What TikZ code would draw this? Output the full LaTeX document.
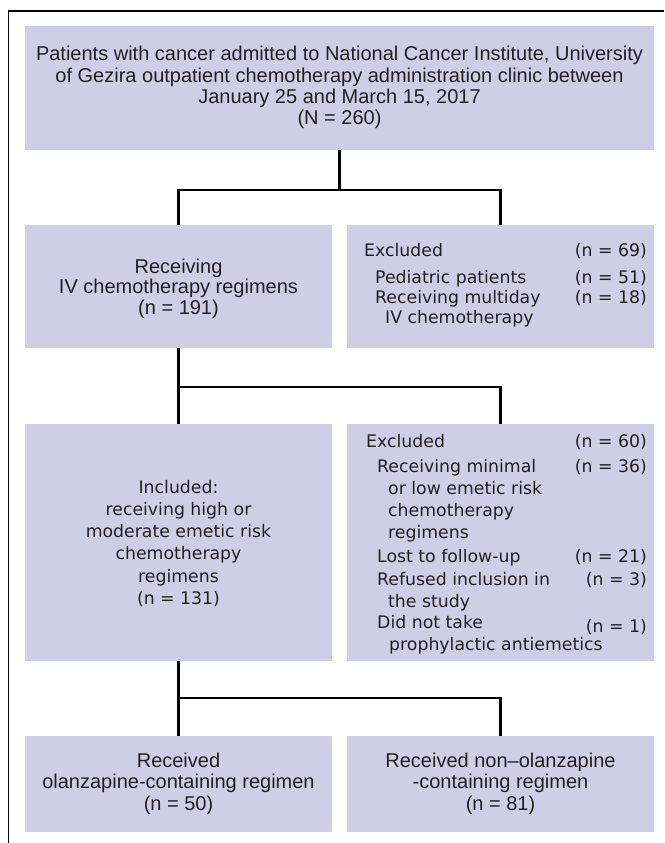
\documentclass[tikz,border=0pt]{standalone}
\usepackage{fontspec}
\setmainfont{Liberation Sans}
\newfontfamily\dvsfont{DejaVu Sans}
\definecolor{boxfill}{RGB}{208,206,230}
\definecolor{ink}{RGB}{35,31,32}
\begin{document}
\begin{tikzpicture}[x=1pt,y=-1pt,
  panel/.style={fill=boxfill,draw=none,inner sep=0pt,outer sep=0pt,anchor=north west,minimum width=#1},
  panel/.default=307pt,
  conn/.style={draw=black,line width=2.2pt,line join=miter},
  frameline/.style={draw=black,line width=1.5pt},
  ctext/.style={anchor=base,inner sep=0pt,text=ink,font=\fontsize{20}{21}\selectfont},
  rtext/.style={anchor=base west,inner sep=0pt,text=ink,font=\dvsfont\fontsize{17.3}{22}\selectfont},
  ntext/.style={anchor=base east,inner sep=0pt,text=ink,font=\dvsfont\fontsize{17.3}{22}\selectfont},
  dtext/.style={anchor=base,inner sep=0pt,text=ink,font=\dvsfont\fontsize{17.3}{22}\selectfont}]
\useasboundingbox (0,0) rectangle (664,843);
\fill[white] (0,0) rectangle (664,843);
% frame (top and left edges)
\coordinate (fbl) at (8.5,843);
\coordinate (ftl) at (8.5,11);
\coordinate (ftr) at (664,11);
\draw[frameline] (fbl) -- (ftl) -- (ftr);
% boxes
\node[panel=629pt,minimum height=124pt] (top) at (25,26) {};
\node[panel,minimum height=123pt] (r2l) at (25,225) {};
\node[panel,minimum height=123pt] (r2r) at (347,225) {};
\node[panel,minimum height=237pt] (r3l) at (25,424) {};
\node[panel,minimum height=237pt] (r3r) at (347,424) {};
\node[panel,minimum height=96pt] (r4l) at (25,736) {};
\node[panel,minimum height=96pt] (r4r) at (347,736) {};
% junction coordinates
\coordinate (j1) at (339.5,190);
\coordinate (j2) at (178.5,387);
\coordinate (j3) at (178.5,698);
% connectors
\draw[conn] (top.south) -- (j1);
\draw[conn] (r2l.north) -- (r2l.north |- j1) -- (r2r.north |- j1) -- (r2r.north);
\draw[conn] (r2l.south) -- (r3l.north);
\draw[conn] (j2) -| (r3r.north);
\draw[conn] (r3l.south) -- (r4l.north);
\draw[conn] (j3) -| (r4r.north);
% top text
\node[ctext] (t1) at (339.5,61) {Patients with cancer admitted to National Cancer Institute, University};
\node[ctext] (t2) at (339.5,82) {of Gezira outpatient chemotherapy administration clinic between};
\node[ctext] (t3) at (339.5,103) {January 25 and March 15, 2017};
\node[ctext] (t4) at (339.5,124) {(N = 260)};
% row 2 left
\node[ctext] (a1) at (178.5,273) {Receiving};
\node[ctext] (a2) at (178.5,293.5) {IV chemotherapy regimens};
\node[ctext] (a3) at (178.5,314) {(n = 191)};
% row 2 right
\node[rtext] (b1) at (364,256) {Excluded};
\node[ntext] (b1n) at (647,256) {(n = 69)};
\node[rtext] (b2) at (375,283) {Pediatric patients};
\node[ntext] (b2n) at (647,283) {(n = 51)};
\node[rtext] (b3) at (375,303) {Receiving multiday};
\node[ntext] (b3n) at (647,303) {(n = 18)};
\node[rtext] (b4) at (385,323) {IV chemotherapy};
% row 3 left
\node[dtext] (c1) at (178.5,493) {Included:};
\node[dtext] (c2) at (178.5,515) {receiving high or};
\node[dtext] (c3) at (178.5,537) {moderate emetic risk};
\node[dtext] (c4) at (178.5,559) {chemotherapy};
\node[dtext] (c5) at (178.5,582) {regimens};
\node[dtext] (c6) at (178.5,604) {(n = 131)};
% row 3 right
\node[rtext] (d1) at (366,447) {Excluded};
\node[ntext] (d1n) at (647,447) {(n = 60)};
\node[rtext] (d2) at (377,472) {Receiving minimal};
\node[ntext] (d2n) at (647,472) {(n = 36)};
\node[rtext] (d3) at (388,494) {or low emetic risk};
\node[rtext] (d4) at (388,516) {chemotherapy};
\node[rtext] (d5) at (388,538) {regimens};
\node[rtext] (d6) at (377,562) {Lost to follow-up};
\node[ntext] (d6n) at (647,562) {(n = 21)};
\node[rtext] (d7) at (377,585) {Refused inclusion in};
\node[ntext] (d7n) at (647,585) {(n = 3)};
\node[rtext] (d8) at (388,607) {the study};
\node[rtext] (d9) at (377,628) {Did not take};
\node[ntext] (d9n) at (647,632) {(n = 1)};
\node[rtext] (d10) at (389,650) {prophylactic antiemetics};
% row 4
\node[ctext] (e1) at (178.5,767) {Received};
\node[ctext] (e2) at (178.5,788) {olanzapine-containing regimen};
\node[ctext] (e3) at (178.5,810) {(n = 50)};
\node[ctext] (f1) at (500.5,767) {Received non–olanzapine};
\node[ctext] (f2) at (500.5,788) {-containing regimen};
\node[ctext] (f3) at (500.5,810) {(n = 81)};
\end{tikzpicture}
\end{document}
